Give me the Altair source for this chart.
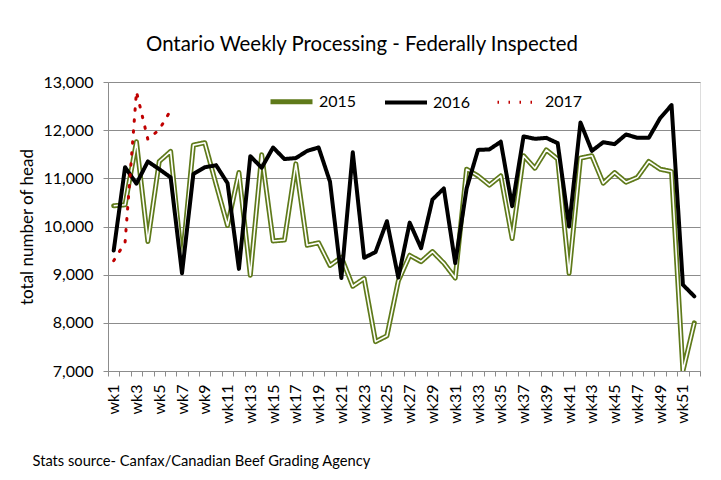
import altair as alt
import pandas as pd

weeks = [f"wk{i}" for i in range(1, 53)]
series = ["2015", "2016", "2017"]
colors = ["#5f7a1a", "#000000", "#c00000"]

y2015 = [10430, 10450, 11760, 9690, 11350, 11560, 9240, 11690, 11740, 10870,
         10020, 11120, 8990, 11490, 9700, 9720, 11300, 9610, 9660, 9190,
         9360, 8760, 8920, 7610, 7730, 8870, 9400, 9270, 9480, 9240,
         8930, 11190, 11050, 10860, 11050, 9750, 11470, 11210, 11590, 11400,
         9030, 11420, 11470, 10900, 11120, 10920, 11020, 11350, 11190, 11140,
         7000, 8000]
y2016 = [9500, 11230, 10890, 11350, 11190, 11020, 9030, 11090, 11230, 11270,
         10900, 9120, 11460, 11220, 11640, 11400, 11420, 11570, 11640, 10930,
         8930, 11540, 9350, 9470, 10110, 8940, 10080, 9550, 10560, 10790,
         9240, 10790, 11590, 11600, 11760, 10420, 11870, 11820, 11840, 11730,
         10000, 12160, 11570, 11750, 11710, 11910, 11840, 11840, 12250, 12520,
         8790, 8550]
y2017 = [9290, 9670, 12800, 11810, 12010, 12410]
y_ticks = [7000, 8000, 9000, 10000, 11000, 12000, 13000]

rows = []
for s, vals in zip(series, [y2015, y2016, y2017]):
    for w, v in zip(weeks, vals):
        rows.append({"week": w, "series": s, "head": v})
df = pd.DataFrame(rows)

FONT = "Lato"
GRID = "#8c8c8c"

x_enc = alt.X(
    "week:O", sort=weeks,
    scale=alt.Scale(type="band", paddingInner=0, paddingOuter=0),
    axis=alt.Axis(
        title="Stats source- Canfax/Canadian Beef Grading Agency",
        titleX=-76, titleY=94, titleAlign="left", titleAnchor="start",
        titleBaseline="alphabetic", titleAngle=0,
        titleFont=FONT, titleFontSize=14.7, titleFontWeight="normal", titleColor="black",
        labelAngle=270, labelAlign="right", labelBaseline="middle",
        labelPadding=8, labelFont=FONT, labelFontSize=16, labelColor="black",
        labelExpr="parseInt(substring(datum.label, 2)) % 2 == 1 ? datum.label : ''",
        labelOverlap=False,
        tickBand="extent", tickSize=5, tickColor=GRID, domainColor=GRID, grid=False,
    ),
)
y_enc = alt.Y(
    "head:Q",
    scale=alt.Scale(domain=[7000, 13000], nice=False, zero=False),
    axis=alt.Axis(
        values=y_ticks, format=",.0f",
        title="total number of head", titleFont=FONT, titleFontSize=17,
        titleFontWeight="normal", titleColor="black", titlePadding=6,
        labelFont=FONT, labelFontSize=16, labelColor="black", labelPadding=10,
        tickSize=5, tickColor=GRID, domainColor=GRID, gridColor=GRID, gridWidth=1,
    ),
)

legend_common = dict(
    orient="none", legendX=160, legendY=-4, direction="horizontal", title=None,
    symbolType="stroke", symbolSize=1764, labelFont=FONT, labelFontSize=16,
    columnPadding=20, labelOffset=4,
)

color_enc = alt.Color(
    "series:N", scale=alt.Scale(domain=series, range=colors),
    legend=alt.Legend(labelColor="black", **legend_common),
)
width_enc = alt.StrokeWidth(
    "series:N", scale=alt.Scale(domain=series, range=[5, 3, 4.5]),
    legend=alt.Legend(labelColor="black", **legend_common),
)
dash_enc = alt.StrokeDash(
    "series:N", scale=alt.Scale(domain=series, range=[[1, 0], [1, 0], [1.5, 9.5]]),
    legend=alt.Legend(labelColor="black", **legend_common),
)

base = alt.Chart(df)

outer2015 = base.transform_filter(alt.datum.series == "2015").mark_line(
    strokeJoin="round", strokeCap="round", clip=True
).encode(x=x_enc, y=y_enc, color=color_enc, strokeWidth=width_enc, strokeDash=dash_enc)

inner2015 = base.transform_filter(alt.datum.series == "2015").mark_line(
    strokeJoin="round", strokeWidth=1.6, clip=True
).encode(
    x=x_enc, y=y_enc,
    stroke=alt.Stroke(
        "series:N",
        scale=alt.Scale(domain=series, range=["white", "transparent", "transparent"]),
        legend=alt.Legend(labelColor="transparent", symbolStrokeWidth=1.6, **legend_common),
    ),
)

others = base.transform_filter(alt.datum.series != "2015").mark_line(
    strokeJoin="round", strokeCap="round", clip=True
).encode(x=x_enc, y=y_enc, color=color_enc, strokeWidth=width_enc, strokeDash=dash_enc)

chart = alt.layer(outer2015, inner2015, others).properties(
    width=592, height=289,
    autosize=alt.AutoSizeParams(type="none"),
    padding={"left": 100, "top": 74, "right": 13, "bottom": 105},
    title=alt.TitleParams(
        "Ontario Weekly Processing - Federally Inspected",
        anchor="middle", frame="group", dx=-42, offset=3,
        baseline="alphabetic", font=FONT, fontSize=20.4, fontWeight="normal", color="black",
    ),
).configure_view(strokeWidth=0).configure(background="white")

chart.save("out.html", embed_options={"renderer": "svg", "actions": False})
